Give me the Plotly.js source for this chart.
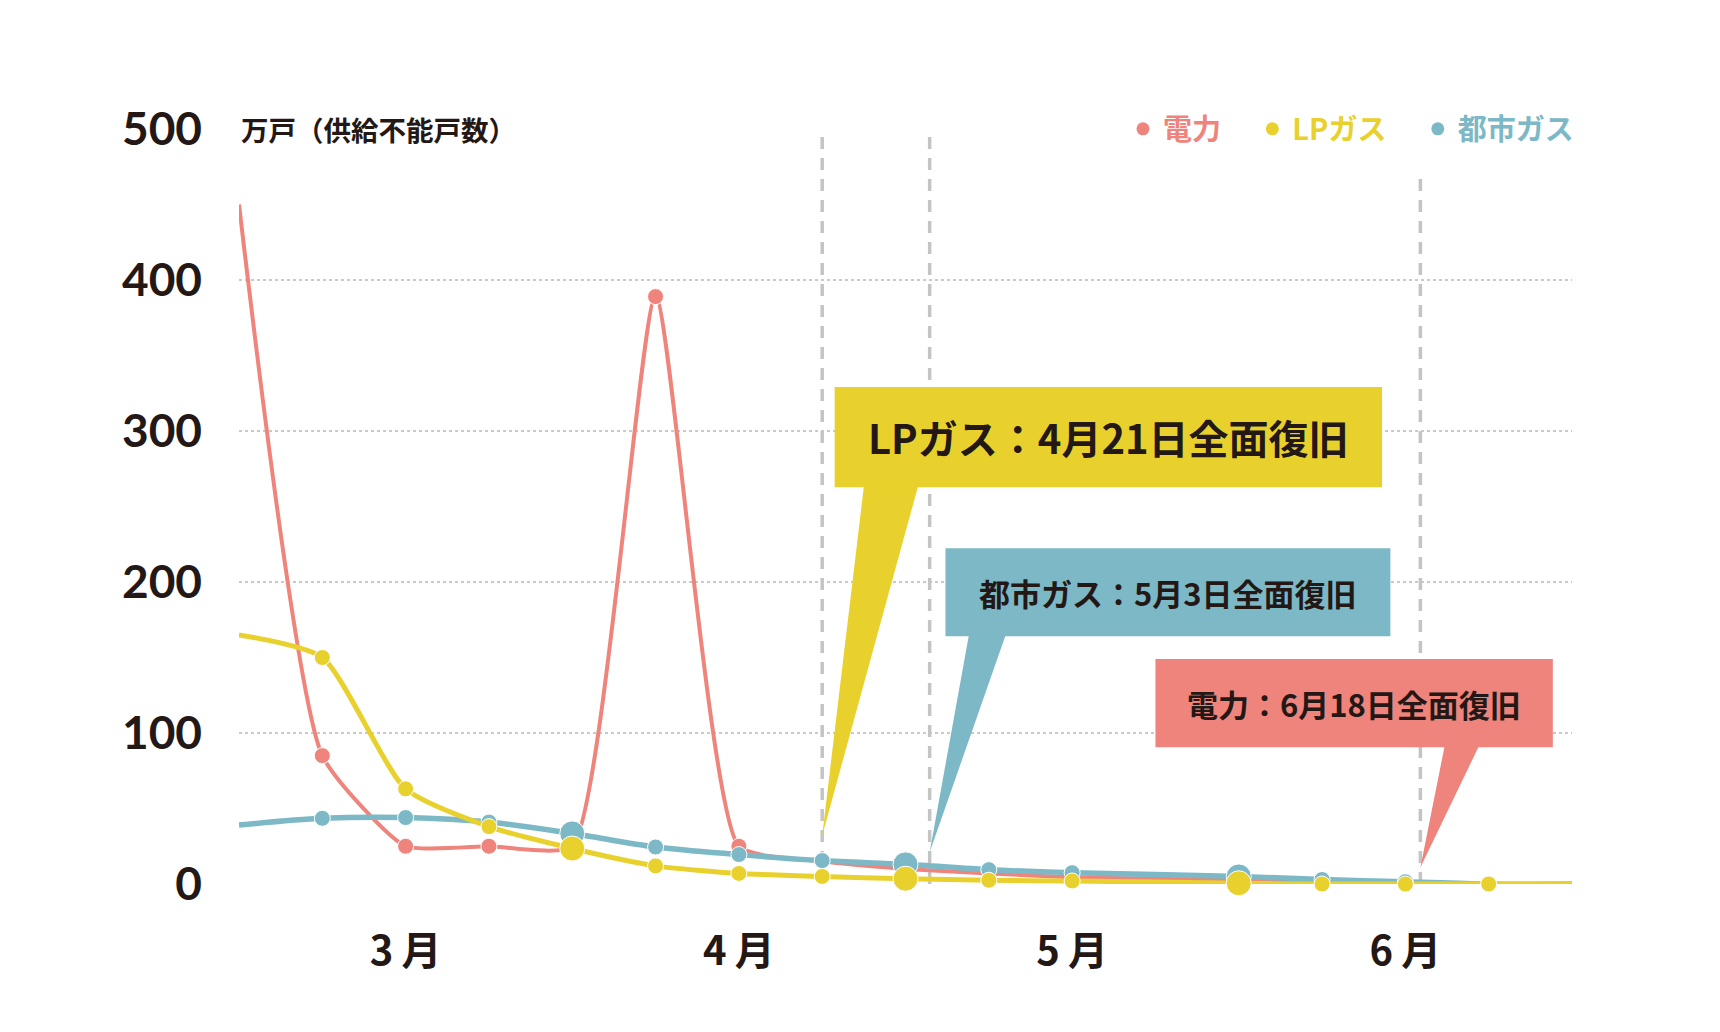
<!DOCTYPE html>
<html>
<head>
<meta charset="utf-8">
<script src="https://cdn.plot.ly/plotly-3.0.1.min.js"></script>
<style>
  html, body { margin: 0; padding: 0; background: #fff; }
  #chart { width: 1720px; height: 1032px; }
</style>
</head>
<body>
<div id="chart"></div>
<script>
// weekly readings, x = week index (week 2 = 3月, 6 = 4月, 10 = 5月, 14 = 6月)
const weeks = [0, 1, 2, 3, 4, 5, 6, 7, 8, 9, 10, 12, 13, 14, 15, 16];
const power = [450, 85, 25, 25, 25, 389, 25, 15, 10, 7, 4.5, 2.5, 1.5, 0.5, 0, 0];
const lpGas = [165, 150, 63, 38, 23.5, 12, 7, 5, 3.5, 2.5, 2, 0.5, 0, 0, 0, 0];
const cityGas = [39, 43.5, 44, 41, 33.5, 24.5, 19.5, 15.5, 13, 9.5, 7.5, 5, 3, 1.5, 0, 0];

const monthTicks = [2, 6, 10, 14];
const monthLabels = ["3\u2009月", "4\u2009月", "5\u2009月", "6\u2009月"];
const yTicks = [0, 100, 200, 300, 400, 500];
const gridVals = [100, 200, 300, 400];

const seriesNames = ["電力", "LPガス", "都市ガス"];
const restoreWeek = [14.18, 7, 8.29];
const restoreText = ["電力：6月18日全面復旧", "LPガス：4月21日全面復旧", "都市ガス：5月3日全面復旧"];

const PINK = "#ee847c";
const YELLOW = "#e9d12d";
const TEAL = "#7cb8c5";
const INK = "#231815";
const CJK = "Noto Sans CJK JP, sans-serif";

// marker sizes: ends of each line carry no dot, some weeks are highlighted
const small = 16, big = 25;
const pinkSizes = weeks.map((w, i) => (i >= 1 && i <= 6 ? small : 0));
const dotSizes = weeks.map((w, i) => {
  if (i === 0 || i === weeks.length - 1) return 0;
  if (w === 4 || w === 8 || w === 12) return big;
  return small;
});

const tracePower = {
  x: weeks, y: power, type: "scatter", mode: "lines+markers",
  line: { color: PINK, width: 4, shape: "spline", smoothing: 0.5 },
  marker: { color: PINK, size: pinkSizes, opacity: 1 },
  showlegend: false, cliponaxis: false, hoverinfo: "skip",
};
const traceCity = {
  x: weeks, y: cityGas, type: "scatter", mode: "lines+markers",
  line: { color: TEAL, width: 5.5, shape: "spline", smoothing: 0.9 },
  marker: { color: TEAL, size: dotSizes, opacity: 1 },
  showlegend: false, cliponaxis: false, hoverinfo: "skip",
};
const traceLp = {
  x: weeks, y: lpGas, type: "scatter", mode: "lines+markers",
  line: { color: YELLOW, width: 5, shape: "spline", smoothing: 0.6 },
  marker: { color: YELLOW, size: dotSizes, opacity: 1 },
  showlegend: false, cliponaxis: false, hoverinfo: "skip",
};

// legend-only dots
const colors = [PINK, YELLOW, TEAL];
const legendTraces = seriesNames.map((n, i) => ({
  x: [null], y: [null], type: "scatter", mode: "markers",
  marker: { color: colors[i], size: 13 },
  name: '<span style="color:' + colors[i] + '">' + n + "</span>\u00a0\u00a0\u00a0\u00a0",
}));

// callout geometry (data units)
const callouts = [
  { i: 1, box: [7.15, 13.72, 262.8, 329.1], base: [7.5, 8.15], tip: 32, top: 500, color: YELLOW, size: 40 },
  { i: 2, box: [8.48, 13.82, 164.1, 222.4], base: [8.76, 9.2], tip: 21, top: 500, color: TEAL, size: 31 },
  { i: 0, box: [11.0, 15.77, 90.5, 149], base: [14.47, 14.88], tip: 11, top: 468, color: PINK, size: 31 },
];

const shapes = [];
const annotations = [];
callouts.forEach((c) => {
  const wk = restoreWeek[c.i];
  shapes.push({
    type: "line", xref: "x", yref: "y", x0: wk, x1: wk, y0: 0, y1: c.top,
    line: { color: "#c4c4c4", width: 3.5, dash: "12px,9px" }, layer: "between",
  });
});
callouts.forEach((c) => {
  const wk = restoreWeek[c.i];
  const [x0, x1, y0, y1] = c.box;
  shapes.push({
    type: "rect", xref: "x", yref: "y", x0: x0, x1: x1, y0: y0, y1: y1,
    fillcolor: c.color, line: { width: 0 }, layer: "above",
  });
  shapes.push({
    type: "path", xref: "x", yref: "y",
    path: `M ${c.base[0]},${y0 + 0.5} L ${c.base[1]},${y0 + 0.5} L ${wk},${c.tip} Z`,
    fillcolor: c.color, line: { width: 0 }, layer: "above",
  });
  annotations.push({
    xref: "x", yref: "y", x: (x0 + x1) / 2, y: (y0 + y1) / 2,
    text: restoreText[c.i], showarrow: false,
    font: { family: CJK, size: c.size, color: INK, weight: 700 },
  });
});

annotations.push({
  xref: "paper", yref: "paper", x: 0, y: 1, xanchor: "left", yanchor: "middle",
  text: "万戸（供給不能戸数）", showarrow: false,
  font: { family: CJK, size: 27.5, color: INK, weight: 700 },
});

const layout = {
  width: 1720,
  height: 1032,
  margin: { l: 239, r: 148, t: 129, b: 148 },
  paper_bgcolor: "#fff",
  plot_bgcolor: "#fff",
  showlegend: true,
  legend: {
    orientation: "h", x: 1.0255, xanchor: "right", y: 1, yanchor: "middle",
    font: { family: CJK, size: 29, color: INK, weight: 700 },
    bgcolor: "rgba(0,0,0,0)",
  },
  xaxis: {
    range: [0, 16], showgrid: false, zeroline: false, showline: false,
    tickmode: "array", tickvals: monthTicks, ticktext: monthLabels,
    ticks: "", ticklabelstandoff: 40,
    tickfont: { family: CJK, size: 40, color: INK, weight: 700 },
    fixedrange: true,
  },
  yaxis: {
    range: [0, 500], showgrid: false, zeroline: false, showline: false,
    tickmode: "array", tickvals: yTicks, ticks: "", ticklabelstandoff: 36,
    tickfont: { family: "Lato, sans-serif", size: 46, color: INK, weight: 700 },
    minor: { tickmode: "array", tickvals: gridVals, showgrid: true, gridcolor: "#c9c9c9", gridwidth: 1.5, griddash: "dot", ticks: "" },
    fixedrange: true,
  },
  shapes: shapes,
  annotations: annotations,
};

Plotly.newPlot("chart", [tracePower, traceCity, traceLp].concat(legendTraces), layout, { displayModeBar: false, staticPlot: true });
</script>
</body>
</html>
